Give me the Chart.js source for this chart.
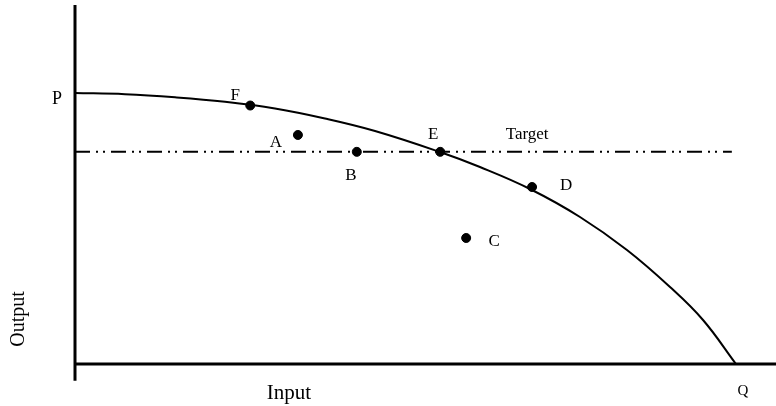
<!DOCTYPE html>
<html>
<head>
<meta charset="utf-8">
<script src="https://cdn.jsdelivr.net/npm/chart.js@4"></script>
<style>
  html, body { margin: 0; padding: 0; background: #fff; }
  #wrap { width: 776px; height: 406px; }
</style>
</head>
<body>
<div id="wrap"><canvas id="myChart1"></canvas></div>
<script>
  // Frontier curve P -> Q (input on x, output on y)
  const curveX = [0, 7.13, 14.27, 21.40, 28.53, 35.66, 42.80, 52.07, 57.77, 64.91, 72.04, 78.74, 84.88, 89.59, 94.29];
  const curveY = [75.49, 75.15, 74.29, 73.04, 71.17, 68.38, 64.90, 59.05, 54.87, 48.75, 40.95, 31.75, 21.45, 12.26, 0];

  // Marked points
  const pointNames = ['F', 'A', 'B', 'E', 'D', 'C'];
  const pointX = [25.0, 31.8, 40.2, 52.1, 65.2, 55.8];
  const pointY = [72.0, 63.8, 59.1, 59.1, 49.3, 35.1];

  // Target level
  const targetY = 59.1;
  const targetEnd = 93.7;

  const font = '"Liberation Serif", "DejaVu Serif", serif';

  // label offsets in pixels from each point
  const labelOffsets = {
    F: [-15, -10], A: [-22, 8], B: [-6, 24], E: [-7, -17], D: [34, -1], C: [28, 4]
  };

  const labelsPlugin = {
    id: 'labels',
    afterDatasetsDraw(chart) {
      const { ctx, scales: { x, y } } = chart;
      ctx.save();
      ctx.fillStyle = '#000';
      ctx.textAlign = 'center';
      ctx.textBaseline = 'middle';
      ctx.font = '17px ' + font;
      pointNames.forEach((n, i) => {
        const o = labelOffsets[n];
        ctx.fillText(n, x.getPixelForValue(pointX[i]) + o[0], y.getPixelForValue(pointY[i]) + o[1]);
      });
      ctx.fillText('Target', x.getPixelForValue(64.5), y.getPixelForValue(targetY) - 17);
      ctx.font = '18px ' + font;
      ctx.fillText('P', x.left - 18, y.getPixelForValue(curveY[0]) + 6);
      ctx.font = '15px ' + font;
      ctx.fillText('Q', x.getPixelForValue(curveX[curveX.length - 1]) + 7, y.bottom + 27);
      ctx.font = '21px ' + font;
      ctx.fillText('Input', 289, y.bottom + 29);
      ctx.translate(19, 319);
      ctx.rotate(-Math.PI / 2);
      ctx.font = '20px ' + font;
      ctx.fillText('Output', 0, 0);
      ctx.restore();
    }
  };

  const config1 = {
    type: 'scatter',
    data: {
      datasets: [
        {
          label: 'Frontier',
          data: curveX.map((v, i) => ({ x: v, y: curveY[i] })),
          showLine: true,
          borderColor: '#000',
          borderWidth: 2,
          pointRadius: 0,
          tension: 0.4,
          order: 2
        },
        {
          label: 'Target',
          data: [{ x: 0, y: targetY }, { x: targetEnd, y: targetY }],
          showLine: true,
          borderColor: '#000',
          borderWidth: 2,
          borderDash: [15, 6, 2, 5, 2, 6],
          pointRadius: 0,
          order: 3
        },
        {
          label: 'Points',
          data: pointX.map((v, i) => ({ x: v, y: pointY[i] })),
          backgroundColor: '#000',
          borderColor: '#000',
          pointRadius: 4.5,
          order: 1
        },
        {
          label: 'y axis',
          data: [{ x: 0, y: 100 }, { x: 0, y: -4.7 }],
          showLine: true,
          borderColor: '#000',
          borderWidth: 3,
          pointRadius: 0,
          clip: false,
          order: 0
        },
        {
          label: 'x axis',
          data: [{ x: 0, y: 0 }, { x: 100, y: 0 }],
          showLine: true,
          borderColor: '#000',
          borderWidth: 3,
          pointRadius: 0,
          clip: false,
          order: 0
        }
      ]
    },
    options: {
      responsive: true,
      maintainAspectRatio: false,
      animation: false,
      layout: { autoPadding: false, padding: { left: 75, right: 0, top: 5, bottom: 42 } },
      scales: {
        x: { type: 'linear', min: 0, max: 100, display: false },
        y: { type: 'linear', min: 0, max: 100, display: false }
      },
      plugins: {
        legend: { display: false },
        tooltip: { enabled: false }
      },
      events: []
    },
    plugins: [labelsPlugin]
  };

  const ctx = document.getElementById('myChart1').getContext('2d');
  const myChart1 = new Chart(ctx, config1);
</script>
</body>
</html>
